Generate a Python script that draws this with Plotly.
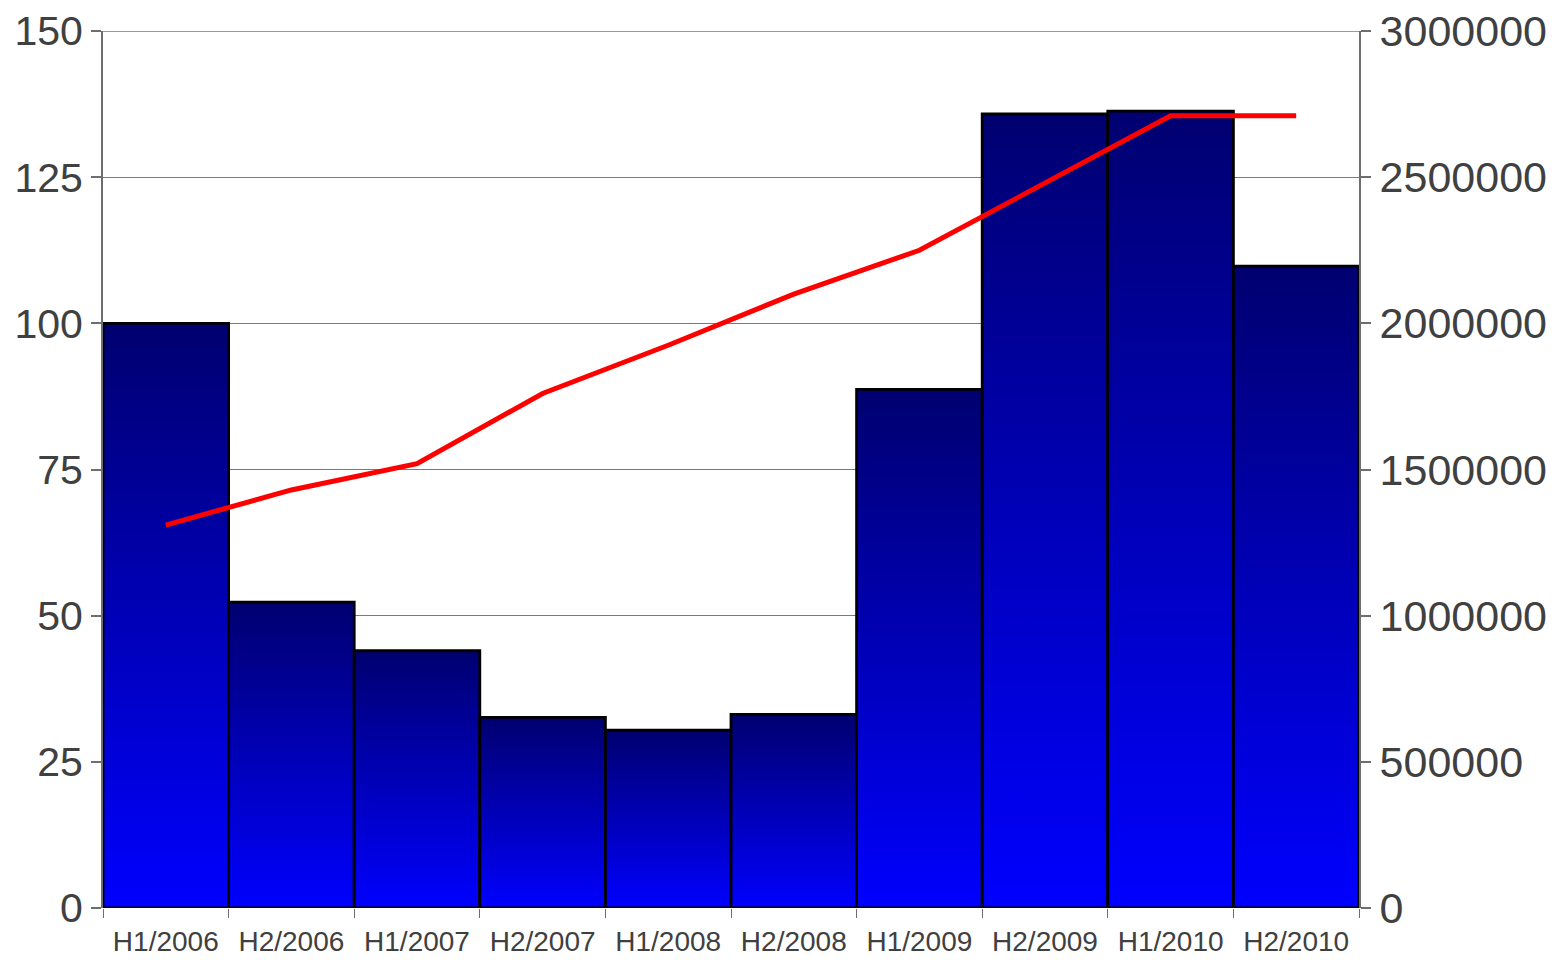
import plotly.graph_objects as go

# Half-year periods
periods = ["H1/2006", "H2/2006", "H1/2007", "H2/2007", "H1/2008",
           "H2/2008", "H1/2009", "H2/2009", "H1/2010", "H2/2010"]

# Index values (left axis)
index_values = [100.0, 52.3, 44.0, 32.6, 30.4, 33.1, 88.7, 135.8, 136.3, 109.8]

# Totals (right axis)
totals = [1310000, 1430000, 1520000, 1760000, 1925000,
          2100000, 2250000, 2480000, 2710000, 2710000]

left_ticks = [0, 25, 50, 75, 100, 125, 150]
right_ticks = [0, 500000, 1000000, 1500000, 2000000, 2500000, 3000000]

fig = go.Figure()

# Each bar is a filled rectangle with its own vertical gradient
for i, v in enumerate(index_values):
    fig.add_trace(go.Scatter(
        x=[i - 0.5, i + 0.5, i + 0.5, i - 0.5, i - 0.5],
        y=[0, 0, v, v, 0],
        mode="lines",
        fill="toself",
        fillgradient=dict(type="vertical",
                          colorscale=[[0, "#0000FF"], [1, "#000070"]]),
        line=dict(color="#000000", width=2.8),
        hoverinfo="skip",
        showlegend=False,
    ))

fig.add_trace(go.Scatter(
    x=list(range(len(periods))),
    y=totals,
    mode="lines",
    line=dict(color="#FF0000", width=5),
    yaxis="y2",
    showlegend=False,
))

axis_gray = "#6e6e6e"
grid_gray = "#7a7a7a"
label_color = "#404040"

# Top gridline at the axis maximum (frame edge)
fig.add_shape(type="line", xref="paper", x0=0, x1=1,
              yref="y", y0=max(left_ticks), y1=max(left_ticks),
              line=dict(color=grid_gray, width=1.5), layer="below")

fig.update_layout(
    width=1557,
    height=966,
    margin=dict(l=103, r=198, t=31, b=58, autoexpand=False),
    paper_bgcolor="white",
    plot_bgcolor="white",
    font=dict(family="Liberation Sans, Arial, sans-serif", color=label_color),
    xaxis=dict(
        range=[-0.5, len(periods) - 0.5],
        automargin=False,
        tickmode="array",
        tickvals=list(range(len(periods))),
        ticktext=periods,
        ticks="",
        ticklabelstandoff=14,
        tickfont=dict(size=28, color=label_color),
        showgrid=False,
        zeroline=False,
        showline=False,
        minor=dict(
            tickmode="array",
            tickvals=[i - 0.5 for i in range(len(periods) + 1)],
            ticks="outside",
            ticklen=9,
            tickwidth=1,
            tickcolor=axis_gray,
            showgrid=False,
        ),
    ),
    yaxis=dict(
        range=[0, 150],
        automargin=False,
        tickmode="array",
        tickvals=left_ticks,
        ticks="outside",
        ticklen=10,
        tickwidth=1.5,
        tickcolor=axis_gray,
        tickfont=dict(size=41, color=label_color),
        showgrid=True,
        gridcolor=grid_gray,
        gridwidth=1,
        zeroline=False,
        showline=True,
        linecolor=axis_gray,
        linewidth=2,
    ),
    yaxis2=dict(
        range=[0, 3000000],
        automargin=False,
        overlaying="y",
        side="right",
        tickmode="array",
        tickvals=right_ticks,
        tickformat=".0f",
        ticks="outside",
        ticklen=10,
        tickwidth=1.5,
        tickcolor=axis_gray,
        tickfont=dict(size=43, color=label_color),
        showgrid=False,
        zeroline=False,
        showline=True,
        linecolor=axis_gray,
        linewidth=2,
    ),
)

fig.write_html("out.html")
